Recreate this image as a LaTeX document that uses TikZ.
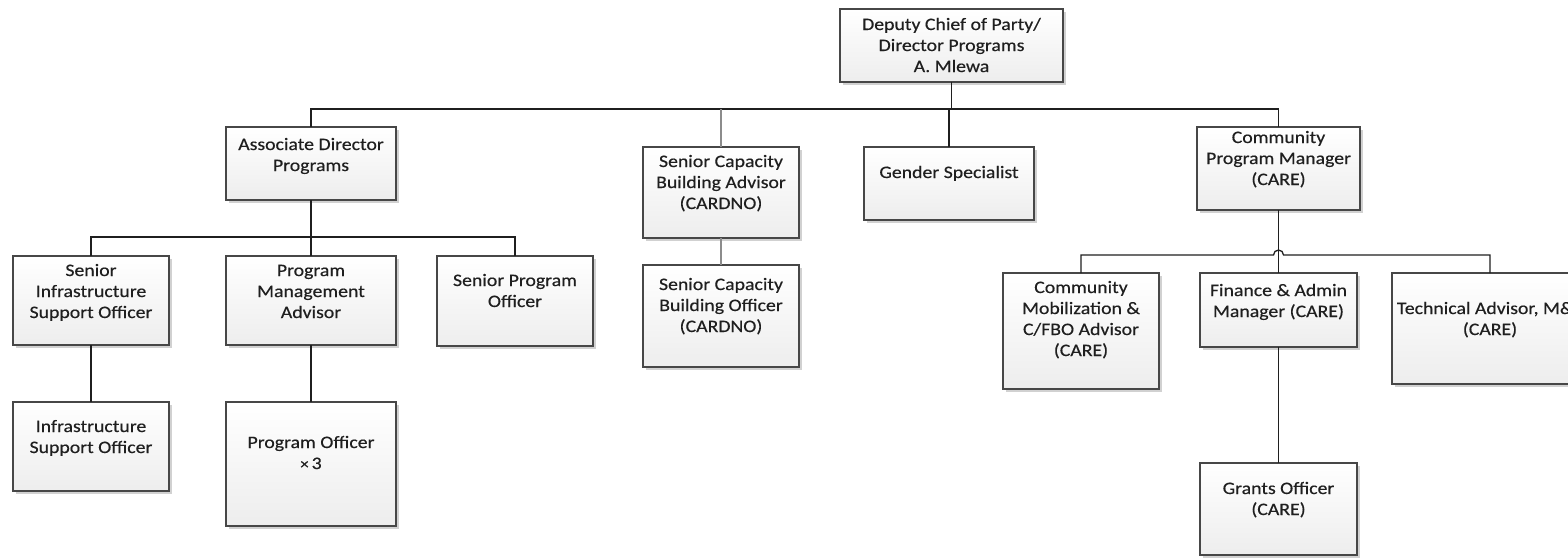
\documentclass[tikz,border=0pt]{standalone}
\usepackage{fontspec}
\setmainfont{Carlito}[FakeStretch=1.13, FakeBold=0.4]
\usetikzlibrary{shadows}
\tikzset{
  box/.style={draw=black!72, line width=1.3pt, top color=white, bottom color=black!7,
    drop shadow={shadow xshift=2.5pt, shadow yshift=-2.5pt, fill=black!18, opacity=1},
    inner sep=0pt, outer sep=0pt},
  txt/.style={align=center, inner sep=0pt, text=black!88,
    font=\fontsize{17.5}{21}\selectfont},
  conn/.style={draw=black!88, line width=1.3pt},
  gconn/.style={draw=black!45, line width=2pt},
}
% name, x1, y1, x2, y2, baseline of last line, text
\newcommand{\obox}[7]{%
  \node[box, minimum width={#4-#2}, minimum height={#5-#3}] (#1) at ({(#2+#4)/2},{(#3+#5)/2}) {};
  \node[txt, anchor=base] (#1-t) at ({(#2+#4)/2},#6) {#7};
}
\begin{document}
\begin{tikzpicture}[x=1pt,y=-1pt]
\useasboundingbox (0,0) rectangle (1568,558);
\clip (0,0) rectangle (1568,558);
\fill[white] (0,0) rectangle (1568,558);

\coordinate (bus1) at (0,109);
\coordinate (bus2) at (0,237);
\coordinate (bus3) at (0,255);

\obox{top}{840}{9}{1063}{82}{72}{Deputy Chief of Party/\\Director Programs\\A. Mlewa}
\obox{assoc}{226}{127}{396}{200}{171}{Associate Director\\Programs}
\obox{scba}{643}{147}{799}{238}{209}{Senior Capacity\\Building Advisor\\(CARDNO)}
\obox{gender}{864}{147}{1034}{220}{178}{Gender Specialist}
\obox{cpm}{1197}{127}{1360}{210}{185}{Community\\Program Manager\\(CARE)}
\obox{sinfra}{13}{256}{169}{345}{318}{Senior\\Infrastructure\\Support Officer}
\obox{pma}{226}{256}{396}{345}{318}{Program\\Management\\Advisor}
\obox{spo}{437}{256}{593}{346}{307}{Senior Program\\Officer}
\obox{iso}{13}{402}{169}{491}{453}{Infrastructure\\Support Officer}
\obox{po}{226}{402}{396}{526}{469}{Program Officer\\{\fontsize{15}{21}\selectfont ×}\,3}
\obox{scbo}{643}{265}{799}{367}{332}{Senior Capacity\\Building Officer\\(CARDNO)}
\obox{cmob}{1003}{273}{1159}{389}{356}{Community\\Mobilization \&\\C/FBO Advisor\\(CARE)}
\obox{fin}{1200}{273}{1357}{347}{317}{Finance \& Admin\\Manager (CARE)}
\obox{tech}{1392}{273}{1588}{384}{335}{Technical Advisor, M\&E\\(CARE)}
\obox{grants}{1200}{463}{1357}{555}{515}{Grants Officer\\(CARE)}

% level 1
\draw[conn] (top.south) -- (top.south |- bus1);
\draw[conn] (assoc.north) |- (cpm.north |- bus1) -- (cpm.north);
\draw[conn] (gender.north) -- (gender.north |- bus1);
\draw[gconn] (scba.north) -- (scba.north |- bus1);
\draw[gconn] (scba.south) -- (scbo.north);

% level 2 left
\draw[conn] (assoc.south) -- (assoc.south |- bus2);
\draw[conn] (sinfra.north) |- (spo.north |- bus2) -- (spo.north);
\draw[conn] (pma.north) -- (pma.north |- bus2);
\draw[conn] (sinfra.south) -- (iso.north);
\draw[conn] (pma.south) -- (po.north);

% level 2 right
\draw[conn] (cpm.south) -- (cpm.south |- fin.north);
\draw[conn] (cmob.north) |- ([xshift=-5pt]cpm.south |- bus3) arc[start angle=180, end angle=0, radius=5pt] -- (tech.north |- bus3) -- (tech.north);
\draw[conn] (fin.south) -- (grants.north);
\end{tikzpicture}
\end{document}
